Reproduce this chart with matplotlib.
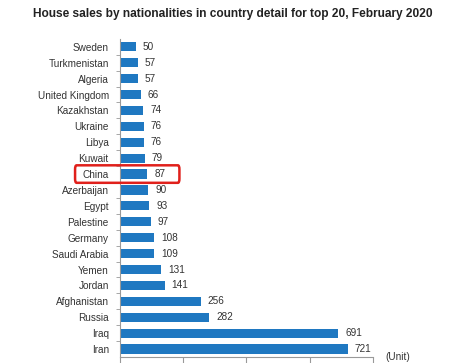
import matplotlib
matplotlib.use("Agg")
import matplotlib.pyplot as plt
from matplotlib.patches import FancyBboxPatch

# data, top to bottom as in the chart
countries = ["Sweden", "Turkmenistan", "Algeria", "United Kingdom", "Kazakhstan",
             "Ukraine", "Libya", "Kuwait", "China", "Azerbaijan", "Egypt",
             "Palestine", "Germany", "Saudi Arabia", "Yemen", "Jordan",
             "Afghanistan", "Russia", "Iraq", "Iran"]
sales = [50, 57, 57, 66, 74, 76, 76, 79, 87, 90, 93, 97, 108, 109, 131, 141,
         256, 282, 691, 721]
x_ticks = [0, 200, 400, 600, 800]
highlight = "China"

plt.rcParams["font.family"] = ["Liberation Sans", "DejaVu Sans"]

fig = plt.figure(figsize=(4.65, 3.63), dpi=100)
ax = fig.add_axes([0.258, 0.0165, 0.544, 0.8765])

pos = list(range(len(countries)))
ax.barh(pos, sales, height=0.58, color="#1f78c1")
ax.set_ylim(len(countries) - 0.5, -0.5)
ax.set_xlim(0, 800)

for p, v in zip(pos, sales):
    ax.text(v + 22, p, str(v), va="center", ha="left", fontsize=7.2, color="#333333")

ax.set_yticks(pos)
ax.set_yticklabels(countries, fontsize=7.2, color="#333333")
ax.tick_params(axis="y", length=0, pad=8)
ax.set_yticks([p + 0.5 for p in pos[:-1]], minor=True)
ax.tick_params(axis="y", which="minor", length=3, color="#999999")

ax.set_xticks(x_ticks)
ax.set_xticklabels([])
ax.tick_params(axis="x", length=5, color="#999999")

for s in ["top", "right"]:
    ax.spines[s].set_visible(False)
for s in ["left", "bottom"]:
    ax.spines[s].set_color("#999999")
    ax.spines[s].set_linewidth(0.8)

# red box around the highlighted row
i = countries.index(highlight)
box = FancyBboxPatch((-142, i - 0.55), 330, 1.1,
                     boxstyle="round,pad=0,rounding_size=5",
                     mutation_aspect=0.05,
                     fill=False, edgecolor="#e0201b", linewidth=1.8,
                     clip_on=False, zorder=5)
ax.add_patch(box)

fig.text(0.855, 0.004, "(Unit)", fontsize=7.2, color="#333333", ha="center", va="bottom")

fig.text(0.5, 0.962, "House sales by nationalities in country detail for top 20, February 2020",
         ha="center", va="center", fontsize=8.6, fontweight="bold", color="#222222")

fig.savefig("out.png", dpi=100)
